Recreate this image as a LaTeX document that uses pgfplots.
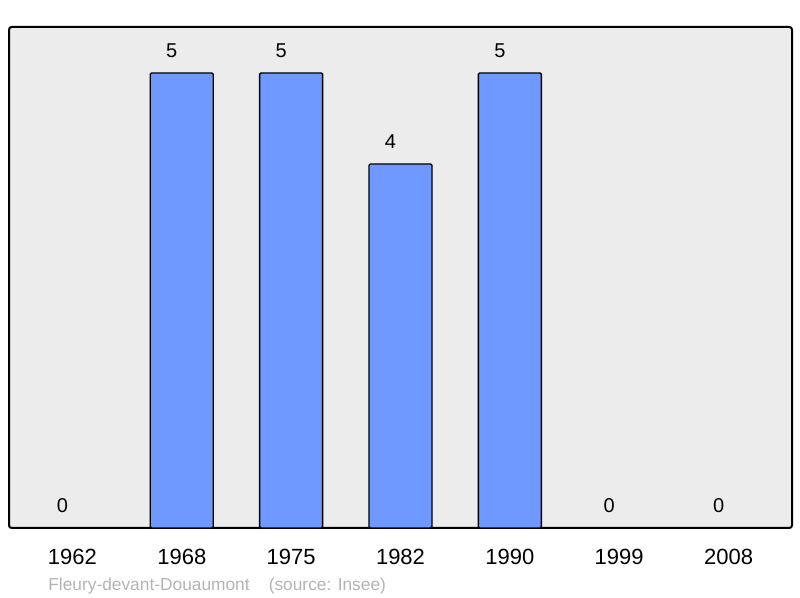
\documentclass[border=0pt]{standalone}
\usepackage{pgfplots}
\pgfplotsset{compat=1.18}
\usepackage{fontspec}
\setmainfont{Liberation Sans}
\definecolor{barblue}{HTML}{7099FF}
\definecolor{panel}{HTML}{ECECEC}
\definecolor{foot}{HTML}{B4B4B4}

\begin{document}
\begin{tikzpicture}
\useasboundingbox (0,0) rectangle (600pt,448.5pt);
\begin{axis}[
  at={(6.75pt,52.5pt)}, anchor=south west,
  scale only axis,
  width=587.25pt, height=375.75pt,
  xmin=-0.58, xmax=6.58, ymin=0, ymax=5.505,
  axis background/.style={fill=panel},
  axis line style={line width=1.5pt, rounded corners=2pt},
  xtick={0,...,6},
  xticklabels={1962,1968,1975,1982,1990,1999,2008},
  ytick=\empty,
  major tick length=0pt,
  xticklabel style={font=\fontsize{16.5}{18}\selectfont, yshift=-12pt},
  ybar, bar width=47.25pt, bar shift=0pt,
  /pgf/number format/assume math mode=true,
  nodes near coords,
  nodes near coords style={font=\fontsize{15}{17}\selectfont, anchor=center, xshift=-7.5pt, yshift=16.5pt},
  clip=false,
]
% populations with people
\addplot[fill=barblue, draw=black, line width=1pt, rounded corners=1pt]
  coordinates {(1,5) (2,5) (3,4) (4,5)};
% zero years: only the label
\addplot[draw=none, fill=none]
  coordinates {(0,0) (5,0) (6,0)};
\end{axis}
\node[anchor=west, text=foot, font=\fontsize{13}{15}\selectfont] at (32.75pt,9pt) {Fleury-devant-Douaumont\hspace{1.1em}(source: Insee)};
\end{tikzpicture}
\end{document}
